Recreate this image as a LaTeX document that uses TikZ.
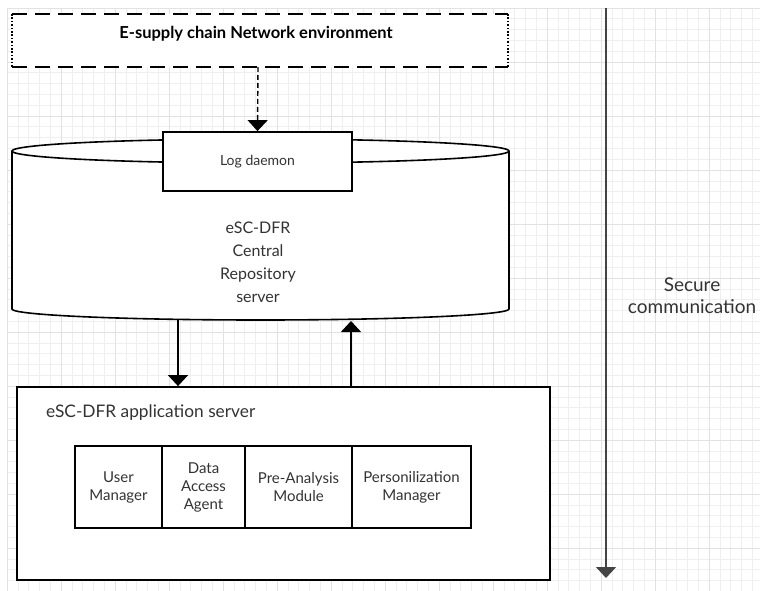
\documentclass[tikz,border=0pt]{standalone}
\usepackage{fontspec}
\setmainfont{Lato}
\usetikzlibrary{arrows.meta,positioning}
\definecolor{gridminor}{HTML}{EFEFEF}
\definecolor{gridmajor}{HTML}{E2E2E2}
\definecolor{txt}{HTML}{333333}
\definecolor{axis}{HTML}{444444}
\tikzset{
  box/.style={draw=black,line width=1.8pt,fill=white,inner sep=0pt,text=txt,align=center},
  module/.style={box,minimum height=82pt,font=\fontsize{15}{18}\selectfont},
  tip/.style={-{Triangle[width=20pt,length=11pt]}},
  link/.style={draw=black,line width=1.4pt,tip},
  lbl/.style={text=txt,align=center,inner sep=0pt}
}
\begin{document}
\begin{tikzpicture}[x=1pt,y=-1pt]
\useasboundingbox (0,0) rectangle (760,591);
\fill[white] (0,0) rectangle (760,591);
% background grid
\foreach \i in {0,...,69} {
  \pgfmathsetmacro{\gx}{7+10.8*\i}
  \draw[gridminor,line width=0.6pt] (\gx,8) -- (\gx,591);
}
\foreach \i in {0,...,54} {
  \pgfmathsetmacro{\gy}{8+10.8*\i}
  \draw[gridminor,line width=0.6pt] (7,\gy) -- (760,\gy);
}
\foreach \i in {0,...,13} {
  \pgfmathsetmacro{\gx}{7+54*\i}
  \draw[gridmajor,line width=0.7pt] (\gx,8) -- (\gx,591);
}
\foreach \i in {0,...,10} {
  \pgfmathsetmacro{\gy}{8+54*\i}
  \draw[gridmajor,line width=0.7pt] (7,\gy) -- (760,\gy);
}

% network environment frame
\fill[white] (12,14) rectangle (508,67);
\draw[line width=1.8pt,dash pattern=on 15pt off 8pt] (12,14) -- (508,14);
\draw[line width=1.8pt,dash pattern=on 15pt off 8pt] (12,67) -- (508,67);
\draw[line width=1.6pt,dash pattern=on 1.6pt off 1.8pt] (12,14) -- (12,67);
\draw[line width=1.6pt,dash pattern=on 1.6pt off 1.8pt] (508,14) -- (508,67);
\node[lbl,text=black,font=\fontsize{16.5}{19}\selectfont\bfseries] (env) at (256,34) {E-supply chain Network environment};
\coordinate (envbot) at (258,67);

% central repository cylinder
\draw[line width=1.6pt,fill=white] (12,151) -- (12,309)
  arc[start angle=180,end angle=0,x radius=248.5,y radius=11] -- (509,151);
\draw[line width=1.6pt,fill=white] (260.5,151) ellipse[x radius=248.5,y radius=12];
\node[lbl,font=\fontsize{16}{23}\selectfont] (repo) at (258,262) {eSC-DFR\\Central\\Repository\\server};
\coordinate (repoout) at (178,320);
\coordinate (repoin) at (351,321);

% log daemon
\node[box,minimum width=189pt,minimum height=59pt,font=\fontsize{14}{16}\selectfont] (log) at (257.5,161.5) {Log daemon};
\draw[line width=1.4pt,dash pattern=on 5pt off 3pt,tip] (envbot) -- (log.north);

% application server
\node[box,minimum width=533pt,minimum height=193pt] (app) at (283.5,483.5) {};
\node[lbl,anchor=west,font=\fontsize{17.3}{20}\selectfont] (apptitle) at (46,413) {eSC-DFR application server};
\node[module,minimum width=87pt] (um) at (118.5,487) {User\\Manager};
\node[module,minimum width=83pt] (daa) at (203.5,487) {Data\\Access\\Agent};
\node[module,minimum width=107pt] (pam) at (298.5,487) {Pre-Analysis\\Module};
\node[module,minimum width=119pt] (pm) at (411.5,487) {Personilization\\Manager};

% links between repository and application server
\draw[link] (repoout) -- (repoout |- app.north);
\draw[link] (repoin |- app.north) -- (repoin);

% secure communication axis
\coordinate (axtop) at (606,8);
\coordinate (axbot) at (606,578);
\draw[draw=axis,line width=1.6pt,tip] (axtop) -- (axbot);
\node[lbl,font=\fontsize{19}{22}\selectfont] (sec) at (692,296) {Secure\\communication};
\end{tikzpicture}
\end{document}
